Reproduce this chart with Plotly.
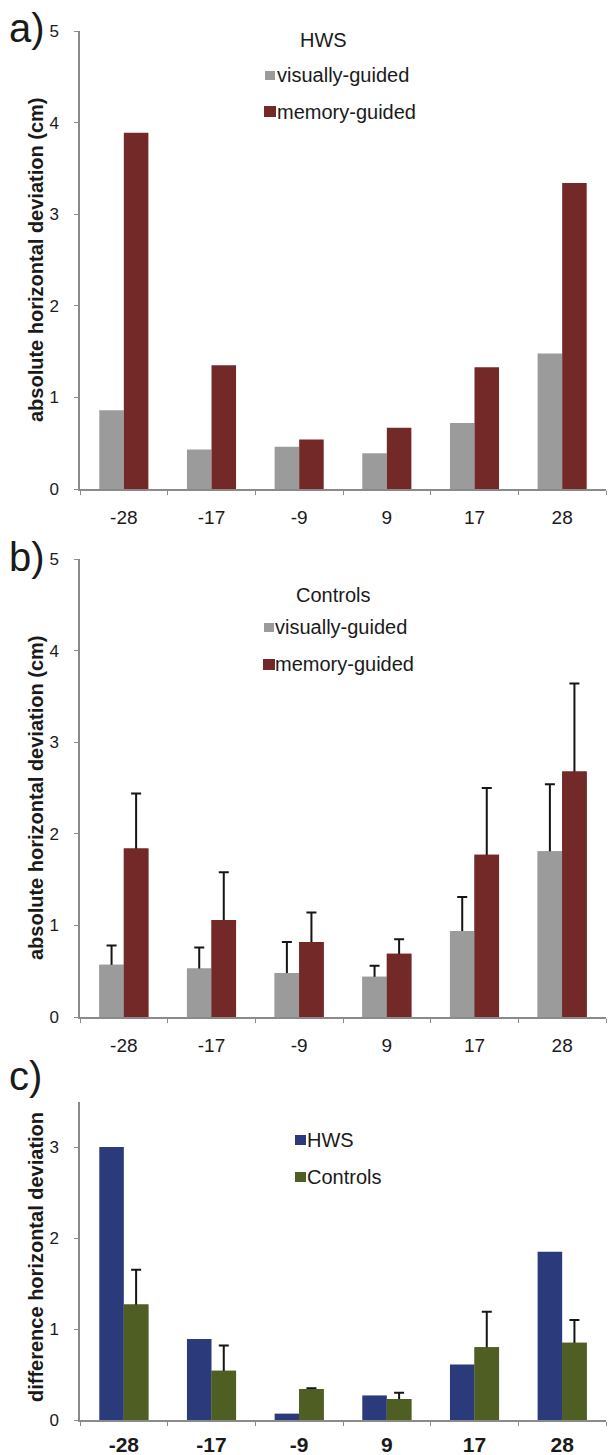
import plotly.graph_objects as go

# ---------------- data ----------------
angles = ["-28", "-17", "-9", "9", "17", "28"]

hws_visual = [0.86, 0.43, 0.46, 0.39, 0.72, 1.48]
hws_memory = [3.89, 1.35, 0.54, 0.67, 1.33, 3.34]

ctrl_visual = [0.57, 0.53, 0.48, 0.44, 0.94, 1.81]
ctrl_visual_err = [0.21, 0.23, 0.34, 0.12, 0.37, 0.73]
ctrl_memory = [1.84, 1.06, 0.82, 0.69, 1.77, 2.68]
ctrl_memory_err = [0.60, 0.52, 0.32, 0.16, 0.73, 0.96]

diff_hws = [3.00, 0.89, 0.07, 0.27, 0.61, 1.85]
diff_ctrl = [1.27, 0.54, 0.34, 0.23, 0.80, 0.85]
diff_ctrl_err = [0.38, 0.28, 0.01, 0.07, 0.39, 0.25]

# ---------------- style ----------------
W, H = 608, 1455
GREY = "#9b9b9b"
RED = "#742929"
NAVY = "#2b3a7a"
OLIVE = "#4f5e22"
AXIS = "#8a8a8a"
TXT = "#1a1a1a"
FONT = "Liberation Sans, Arial, sans-serif"
BW = 0.28  # bar width (category units)


def px(x):
    return x / W


def py(y):
    return 1 - y / H


fig = go.Figure()


def bars(y, color, name, xa, ya, left, err=None):
    kw = {}
    if err is not None:
        # plus-only error bar; the lower cap is hidden inside the bar
        kw["error_y"] = dict(type="data", symmetric=False, array=err,
                             arrayminus=[0.05] * len(err),
                             color="#151515", thickness=2, width=5)
    fig.add_trace(go.Bar(x=angles, y=y, marker_color=color, marker_line_width=0,
                         name=name, width=BW, offset=-BW if left else 0,
                         xaxis=xa, yaxis=ya, showlegend=False, **kw))


# Panel a
bars(hws_visual, GREY, "visually-guided", "x", "y", True)
bars(hws_memory, RED, "memory-guided", "x", "y", False)
# Panel b
bars(ctrl_visual, GREY, "visually-guided", "x2", "y2", True, ctrl_visual_err)
bars(ctrl_memory, RED, "memory-guided", "x2", "y2", False, ctrl_memory_err)
bars(ctrl_visual, GREY, "visually-guided", "x2", "y2", True)
bars(ctrl_memory, RED, "memory-guided", "x2", "y2", False)
# Panel c
bars(diff_hws, NAVY, "HWS", "x3", "y3", True)
bars(diff_ctrl, OLIVE, "Controls", "x3", "y3", False, diff_ctrl_err)
bars(diff_ctrl, OLIVE, "Controls", "x3", "y3", False)

xdom = [px(80), px(606)]


def xaxis_cfg(anchor, size, bold=False, standoff=10):
    return dict(domain=xdom, anchor=anchor, type="category", showline=True,
                linecolor=AXIS, linewidth=1.5, ticks="outside", tickson="boundaries",
                ticklen=4, tickcolor=AXIS, tickwidth=1,
                tickfont=dict(family=FONT, size=size, color=TXT, weight="bold" if bold else "normal"),
                ticklabelstandoff=standoff, showgrid=False, zeroline=False, fixedrange=True)


def yaxis_cfg(anchor, dom, rng):
    return dict(domain=dom, anchor=anchor, range=rng, dtick=1, tick0=0, showline=True,
                linecolor=AXIS, linewidth=1.5, ticks="outside", ticklen=4, tickcolor=AXIS,
                tickwidth=1, tickfont=dict(family=FONT, size=17, color=TXT),
                ticklabelstandoff=12, showgrid=False, zeroline=False, fixedrange=True)


fig.update_layout(
    width=W, height=H,
    margin=dict(l=0, r=0, t=0, b=0, autoexpand=False),
    paper_bgcolor="white", plot_bgcolor="white",
    barmode="overlay",
    font=dict(family=FONT, color=TXT),
    xaxis=xaxis_cfg("y", 19, standoff=10),
    yaxis=yaxis_cfg("x", [py(489), py(31)], [0, 5]),
    xaxis2=xaxis_cfg("y2", 19, standoff=10),
    yaxis2=yaxis_cfg("x2", [py(1017), py(559)], [0, 5]),
    xaxis3=xaxis_cfg("y3", 21, bold=True, standoff=5),
    yaxis3=yaxis_cfg("x3", [py(1420), py(1101.5)], [0, 3.5]),
)

ann = []
shapes = []


def text(x, y, s, size, anchor="left", bold=False, angle=0):
    ann.append(dict(x=px(x), y=py(y), xref="paper", yref="paper", text=s, showarrow=False,
                    xanchor=anchor, yanchor="middle", textangle=angle,
                    font=dict(family=FONT, size=size, color=TXT,
                              weight="bold" if bold else "normal")))


def square(x0, x1, y0, y1, color):
    shapes.append(dict(type="rect", xref="paper", yref="paper",
                       x0=px(x0), x1=px(x1), y0=py(y1), y1=py(y0),
                       fillcolor=color, line=dict(width=0)))


# panel labels
text(7, 28, "a)", 40)
text(7, 557, "b)", 40)
text(7, 1076, "c)", 40)

# y titles
text(36, 260, "absolute horizontal deviation (cm)", 20, anchor="center", bold=True, angle=-90)
text(36, 798, "absolute horizontal deviation (cm)", 20, anchor="center", bold=True, angle=-90)
text(36, 1257, "difference horizontal deviation", 20, anchor="center", bold=True, angle=-90)

# legend a
text(323, 40, "HWS", 20, anchor="center")
square(265, 275, 71, 80, GREY)
text(275, 75, "visually-guided", 20)
square(264, 276, 106, 117, RED)
text(275, 112, "memory-guided", 20)

# legend b
text(333, 595, "Controls", 20, anchor="center")
square(264, 274, 623, 632, GREY)
text(273, 627, "visually-guided", 20)
square(263, 275, 659, 670, RED)
text(273, 664, "memory-guided", 20)

# legend c
square(295, 306, 1135, 1145, NAVY)
text(305, 1140, "HWS", 20)
square(295, 306, 1172, 1182, OLIVE)
text(305, 1177, "Controls", 20)

fig.update_layout(annotations=ann, shapes=shapes)

fig.write_html("out.html")
